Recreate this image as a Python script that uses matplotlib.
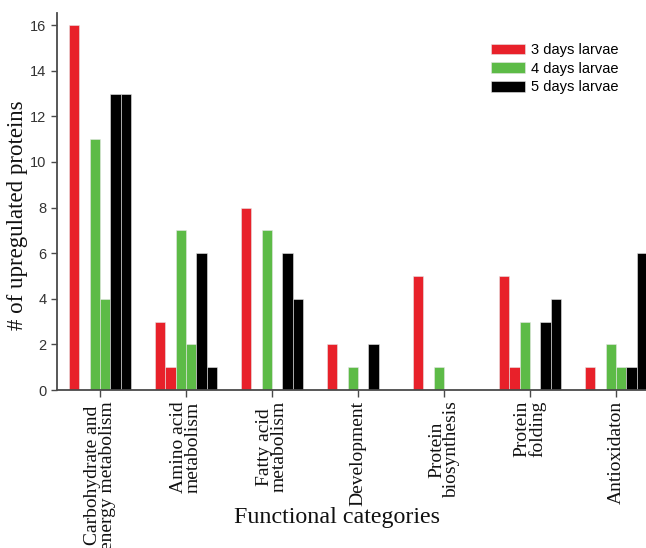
import matplotlib
matplotlib.use("Agg")
import matplotlib.pyplot as plt
import numpy as np

categories = [
    "Carbohydrate and\nenergy metabolism",
    "Amino acid\nmetabolism",
    "Fatty acid\nmetabolism",
    "Development",
    "Protein\nbiosynthesis",
    "Protein\nfolding",
    "Antioxidaton",
]

# two bars per stage in every category
larvae3_a = [16, 3, 8, 2, 5, 5, 1]
larvae3_b = [0, 1, 0, 0, 0, 1, 0]
larvae4_a = [11, 7, 7, 1, 1, 3, 2]
larvae4_b = [4, 2, 0, 0, 0, 0, 1]
larvae5_a = [13, 6, 6, 2, 0, 3, 1]
larvae5_b = [13, 1, 4, 0, 0, 4, 6]

yticks = [0, 2, 4, 6, 8, 10, 12, 14, 16]

RED = "#e8212a"
GREEN = "#5dbb47"
BLACK = "#000000"
AXIS = "#4a4a4a"

fig = plt.figure(figsize=(6.46, 5.48), dpi=100)
ax = fig.add_axes([57 / 646, 1 - 390 / 548, 1 - 57 / 646, (390 - 13) / 548])

x = np.arange(len(categories))
w = 0.12
series = [
    (larvae3_a, RED, "3 days larvae"),
    (larvae3_b, RED, None),
    (larvae4_a, GREEN, "4 days larvae"),
    (larvae4_b, GREEN, None),
    (larvae5_a, BLACK, "5 days larvae"),
    (larvae5_b, BLACK, None),
]
for i, (vals, col, lab) in enumerate(series):
    offset = (i - 2.5) * w
    ax.bar(x + offset, vals, width=w, color=col, edgecolor="#e6e6e6",
           linewidth=0.4, label=lab, zorder=2)

ax.set_xlim(-0.5, 6.35)
ax.set_ylim(0, 16.53)
ax.set_yticks(yticks)
ax.set_yticklabels([str(v) for v in yticks], family="Liberation Sans",
                   fontsize=10.5, color="#333333")
ax.set_xticks(x)
ax.set_xticklabels(categories, rotation=90, family="Liberation Serif",
                   fontsize=14, linespacing=0.8, color="#111111",
                   va="top", ha="center")

for side in ("top", "right"):
    ax.spines[side].set_visible(False)
for side in ("left", "bottom"):
    ax.spines[side].set_color(AXIS)
    ax.spines[side].set_linewidth(1.3)
ax.tick_params(axis="y", direction="out", length=4.5, width=1.0, color=AXIS, pad=3)
ax.tick_params(axis="x", direction="out", length=5, width=1.0, color=AXIS, pad=3)

leg = ax.legend(loc="upper left", frameon=False,
                prop={"family": "Liberation Sans", "size": 10.5},
                handlelength=2.3, handleheight=0.75, handletextpad=0.45,
                labelspacing=0.32, borderaxespad=0, borderpad=0)
leg.set_bbox_to_anchor((491 / 646, 1 - 43 / 548), transform=fig.transFigure)

fig.text(337 / 646, 1 - 517 / 548, "Functional categories", family="Liberation Serif",
         fontsize=17.3, ha="center", va="center", color="#111111")
fig.text(18 / 646, 1 - 215 / 548, "# of upregulated proteins", family="Liberation Serif",
         fontsize=16.5, rotation=90, ha="center", va="center", color="#111111")

fig.savefig("out.png", dpi=100)
